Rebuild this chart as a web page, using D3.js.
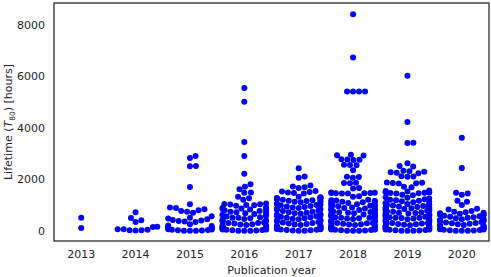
<!DOCTYPE html>
<html>
<head>
<meta charset="utf-8">
<script src="https://cdn.jsdelivr.net/npm/d3@7"></script>
<style>
  html, body { margin: 0; padding: 0; background: #fff; }
  svg { display: block; font-family: "DejaVu Sans", sans-serif; }
</style>
</head>
<body>
<div id="chart"></div>
<script>
// Lifetime values (hours) per publication year
const years = ['2013', '2014', '2015', '2016', '2017', '2018', '2019', '2020'];

const lifetime2013 = [100, 500];
const lifetime2014 = [10, 20, 20, 40, 60, 60, 140, 150, 340, 410, 490, 720];
const lifetime2015 = [0, 0, 0, 10, 20, 30, 40, 50, 60, 80, 100, 120, 150, 180, 200, 250,
    340, 360, 380, 400, 420, 440, 470, 500, 560, 700, 740, 760, 790, 830, 880, 900,
    1030, 1700, 2500, 2510, 2820, 2900];
const lifetime2016 = [0, 0, 0, 10, 20, 30, 40, 50, 50, 60, 80, 100, 100, 120, 150, 150,
    180, 200, 200, 220, 240, 250, 280, 300, 300, 320, 350, 380, 400, 400, 420, 450,
    480, 500, 500, 520, 550, 580, 600, 600, 620, 650, 680, 700, 720, 740, 760, 790,
    800, 820, 840, 860, 880, 900, 970, 990, 1000, 1020, 1030, 1040, 1060, 1200, 1260,
    1320, 1470, 1480, 1610, 1710, 1800, 2215, 2900, 3445, 5010, 5540];
const lifetime2017 = [0, 0, 10, 20, 30, 40, 50, 60, 70, 80, 90, 100, 120, 140, 150, 160,
    180, 200, 220, 240, 260, 280, 300, 320, 340, 360, 380, 400, 420, 440, 460, 480,
    500, 520, 540, 560, 580, 600, 620, 640, 660, 680, 700, 720, 740, 760, 780, 800,
    830, 850, 880, 900, 920, 940, 960, 980, 1000, 1020, 1040, 1050, 1100, 1120, 1130,
    1150, 1160, 1180, 1190, 1200, 1230, 1240, 1260, 1270, 1290, 1300, 1320, 1440,
    1460, 1480, 1500, 1520, 1540, 1660, 1690, 1720, 1750, 2060, 2100, 2420];
const lifetime2018 = [0, 0, 0, 10, 20, 30, 40, 50, 50, 60, 70, 80, 90, 100, 100, 120,
    140, 150, 150, 170, 190, 200, 200, 220, 240, 250, 270, 290, 300, 300, 320, 340,
    350, 370, 390, 400, 400, 430, 450, 470, 480, 500, 500, 520, 540, 550, 570, 590,
    600, 600, 630, 650, 660, 680, 700, 700, 720, 730, 750, 760, 780, 800, 800, 830,
    850, 860, 880, 900, 900, 930, 950, 970, 990, 1000, 1000, 1030, 1050, 1060, 1080,
    1100, 1100, 1120, 1140, 1150, 1170, 1180, 1200, 1320, 1340, 1440, 1445, 1450,
    1455, 1460, 1465, 1470, 1480, 1640, 1660, 1840, 1850, 1860, 2060, 2080, 2090,
    2350, 2540, 2550, 2560, 2740, 2750, 2760, 2770, 2920, 2930, 2950,
    5400, 5400, 5400, 5400, 6720, 8400];
const lifetime2019 = [0, 0, 0, 10, 20, 30, 40, 50, 50, 60, 70, 80, 90, 100, 100, 110,
    130, 150, 150, 160, 180, 200, 200, 210, 230, 250, 260, 280, 300, 300, 310, 330,
    350, 360, 380, 400, 400, 420, 440, 450, 470, 490, 500, 500, 520, 540, 550, 570,
    590, 600, 600, 620, 640, 650, 670, 690, 700, 700, 720, 740, 750, 770, 790, 800,
    800, 820, 840, 850, 870, 890, 900, 900, 920, 940, 960, 980, 1000, 1000, 1020,
    1040, 1060, 1080, 1100, 1120, 1140, 1160, 1180, 1200, 1220, 1250, 1280, 1300,
    1380, 1400, 1440, 1450, 1460, 1470, 1480, 1490, 1500, 1520, 1540, 1560, 1690,
    1710, 1830, 1840, 1850, 1860, 1870, 2090, 2100, 2110, 2230, 2250, 2270, 2290,
    2310, 2330, 2490, 2510, 2620, 3400, 3410, 4220, 6020];
const lifetime2020 = [0, 0, 0, 10, 20, 30, 40, 50, 60, 70, 80, 100, 100, 120, 140, 150,
    170, 190, 200, 200, 220, 250, 270, 290, 300, 320, 340, 360, 380, 400, 400, 420,
    440, 460, 480, 500, 520, 540, 560, 580, 600, 620, 640, 660, 680, 700, 720, 740,
    760, 820, 850, 1000, 1120, 1160, 1400, 1440, 1470, 2430, 3610];

const lifetimes = [lifetime2013, lifetime2014, lifetime2015, lifetime2016,
    lifetime2017, lifetime2018, lifetime2019, lifetime2020];
const yTicks = [0, 2000, 4000, 6000, 8000];

const W = 491, H = 277;
const margin = {top: 3, right: 2, bottom: 36, left: 54};
const ink = '#262626';

const svg = d3.select('#chart').append('svg')
    .attr('width', W)
    .attr('height', H);

const xScale = d3.scaleBand()
    .domain(years)
    .range([margin.left, W - margin.right])
    .padding(0);

const yScale = d3.scaleLinear()
    .domain([-400, 8840])
    .range([H - margin.bottom, margin.top]);

// Beeswarm: place points in value order at the free spot closest to the centre
const r = 3.0;
function swarm(values) {
    const pts = values.map(v => ({v, y: yScale(v), x: 0}))
        .sort((a, b) => a.v - b.v);
    const placed = [];
    const d2 = (2 * r) * (2 * r);
    pts.forEach(p => {
        const near = placed.filter(q => Math.abs(q.y - p.y) < 2 * r);
        const cands = [0];
        near.forEach(q => {
            const dx = Math.sqrt(d2 - (q.y - p.y) ** 2);
            cands.push(q.x + dx, q.x - dx);
        });
        cands.sort((a, b) => Math.abs(a) - Math.abs(b));
        for (const c of cands) {
            if (near.every(q => (q.x - c) ** 2 + (q.y - p.y) ** 2 >= d2 - 1e-6)) {
                p.x = c;
                break;
            }
        }
        placed.push(p);
    });
    return pts;
}

// Axes (labels only, no tick marks)
const xAxis = svg.append('g')
    .attr('transform', `translate(0, ${H - margin.bottom})`)
    .call(d3.axisBottom(xScale).tickSize(0).tickPadding(9));
const yAxis = svg.append('g')
    .attr('transform', `translate(${margin.left}, 0)`)
    .call(d3.axisLeft(yScale).tickValues(yTicks).tickFormat(d3.format('d'))
        .tickSize(0).tickPadding(9));

[xAxis, yAxis].forEach(g => {
    g.select('.domain').remove();
    g.selectAll('text')
        .attr('fill', ink)
        .style('font-size', '11px')
        .style('font-family', '"DejaVu Sans", sans-serif');
});

// Points
const half = xScale.bandwidth() * 0.4;
years.forEach((yr, i) => {
    const cx = xScale(yr) + xScale.bandwidth() / 2;
    svg.append('g')
        .selectAll('circle')
        .data(swarm(lifetimes[i]))
        .join('circle')
        .attr('cx', d => cx + Math.max(-half, Math.min(half, d.x)))
        .attr('cy', d => d.y)
        .attr('r', r)
        .attr('fill', '#0000ff');
});

// Frame
svg.append('rect')
    .attr('x', margin.left)
    .attr('y', margin.top)
    .attr('width', W - margin.left - margin.right)
    .attr('height', H - margin.top - margin.bottom)
    .attr('fill', 'none')
    .attr('stroke', ink)
    .attr('stroke-width', 1.25);

// Axis titles
svg.append('text')
    .attr('x', (margin.left + W - margin.right) / 2)
    .attr('y', 274)
    .attr('text-anchor', 'middle')
    .attr('fill', ink)
    .style('font-size', '11px')
    .text('Publication year');

const yLabel = svg.append('text')
    .attr('transform', `translate(12, ${(margin.top + H - margin.bottom) / 2}) rotate(-90)`)
    .attr('text-anchor', 'middle')
    .attr('fill', ink)
    .style('font-size', '11px');
yLabel.append('tspan').text('Lifetime (');
yLabel.append('tspan').style('font-style', 'italic').text('T');
yLabel.append('tspan').attr('dy', 2.5).style('font-size', '7.5px').text('80');
yLabel.append('tspan').attr('dy', -2.5).text(') [hours]');
</script>
</body>
</html>
